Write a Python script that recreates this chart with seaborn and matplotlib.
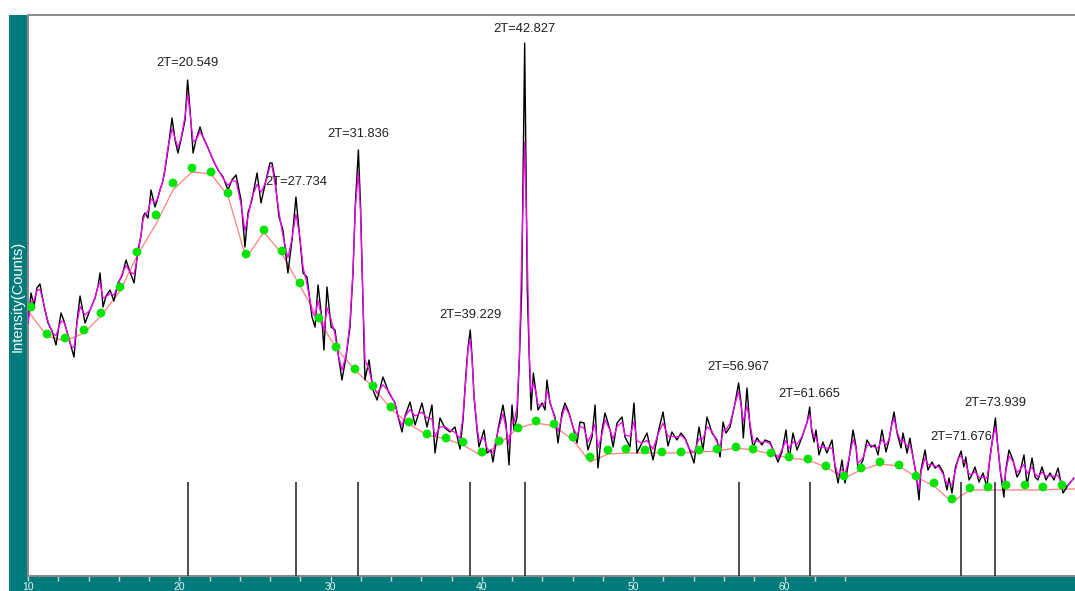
import numpy as np
import pandas as pd
import matplotlib
matplotlib.use("Agg")
import matplotlib.pyplot as plt
import seaborn as sns
from matplotlib.patches import Rectangle

# ---- measured scan: 2-theta (deg) and intensity (counts) ----
two_theta = [
    10.00, 10.20, 10.40, 10.59, 10.79, 11.06, 11.32, 11.59, 11.85, 12.18,
    12.38, 12.64, 12.84, 13.04, 13.24, 13.44, 13.77, 14.10, 14.43, 14.63,
    14.76, 14.96, 15.16, 15.42, 15.68, 15.95, 16.21, 16.48, 16.74, 17.01,
    17.27, 17.47, 17.60, 17.73, 17.93, 18.13, 18.39, 18.53, 18.72, 18.92,
    19.05, 19.25, 19.52, 19.72, 19.91, 20.11, 20.38, 20.549, 20.71, 20.91,
    21.10, 21.37, 21.57, 21.90, 22.23, 22.56, 22.89, 23.22, 23.48, 23.75,
    24.08, 24.34, 24.54, 24.80, 25.14, 25.40, 25.73, 25.99, 26.13, 26.33,
    26.59, 26.85, 27.18, 27.45, 27.71, 27.98, 28.18, 28.44, 28.77, 28.97,
    29.17, 29.43, 29.56, 29.76, 30.03, 30.29, 30.49, 30.75, 31.02, 31.28,
    31.48, 31.63, 31.836, 31.98, 32.13, 32.27, 32.54, 32.80, 33.07, 33.46,
    33.86, 34.26, 34.45, 34.72, 34.92, 35.25, 35.58, 36.04, 36.37, 36.70,
    36.90, 37.23, 37.56, 37.89, 38.22, 38.55, 38.75, 38.95, 39.08, 39.229,
    39.35, 39.48, 39.68, 39.81, 40.14, 40.34, 40.60, 40.73, 41.06, 41.39,
    41.59, 41.79, 41.99, 42.12, 42.32, 42.48, 42.63, 42.827, 43.00, 43.13,
    43.25, 43.40, 43.55, 43.71, 43.97, 44.17, 44.30, 44.50, 44.83, 45.03,
    45.29, 45.49, 45.76, 46.02, 46.29, 46.48, 46.75, 47.01, 47.28, 47.48,
    47.67, 47.94, 48.14, 48.47, 48.67, 48.93, 49.26, 49.46, 49.79, 50.05,
    50.25, 50.58, 50.91, 51.31, 51.64, 51.97, 52.30, 52.56, 52.89, 53.16,
    53.42, 53.69, 54.02, 54.35, 54.61, 54.88, 55.21, 55.54, 55.74, 55.94,
    56.13, 56.40, 56.73, 56.967, 57.15, 57.28, 57.52, 57.72, 57.92, 58.18,
    58.51, 58.71, 59.04, 59.31, 59.57, 59.83, 60.10, 60.30, 60.56, 60.83,
    61.16, 61.50, 61.665, 61.79, 61.95, 62.08, 62.28, 62.54, 62.80, 63.14,
    63.34, 63.54, 63.80, 64.00, 64.26, 64.53, 64.73, 64.86, 65.19, 65.45,
    65.72, 65.98, 66.18, 66.44, 66.71, 66.91, 67.10, 67.24, 67.44, 67.70,
    67.83, 68.10, 68.29, 68.49, 68.69, 68.89, 69.02, 69.29, 69.48, 69.75,
    69.95, 70.21, 70.48, 70.74, 70.87, 71.07, 71.30, 71.50, 71.676, 71.85,
    71.98, 72.20, 72.38, 72.59, 72.86, 73.12, 73.38, 73.58, 73.78, 73.939,
    74.10, 74.28, 74.50, 74.62, 74.84, 75.10, 75.37, 75.56, 75.83, 76.03,
    76.36, 76.56, 76.75, 77.02, 77.28, 77.55, 77.81, 78.08, 78.41, 78.74,
    79.13,
]
counts = [
    253, 283, 270, 288, 292, 270, 253, 245, 231, 263,
    255, 241, 230, 219, 255, 280, 253, 266, 278, 290,
    303, 269, 280, 286, 275, 293, 300, 316, 304, 293,
    326, 340, 359, 363, 358, 386, 369, 375, 386, 395,
    406, 426, 458, 436, 423, 436, 456, 496, 466, 423,
    436, 449, 439, 428, 416, 406, 399, 386, 396, 401,
    376, 329, 363, 376, 403, 373, 396, 413, 413, 396,
    359, 346, 303, 336, 379, 336, 303, 299, 259, 249,
    291, 256, 226, 289, 249, 246, 223, 196, 219, 249,
    303, 370, 426, 369, 280, 196, 216, 186, 176, 199,
    183, 173, 160, 144, 160, 174, 151, 173, 149, 171,
    123, 158, 148, 144, 149, 127, 156, 203, 228, 246,
    219, 179, 146, 129, 146, 123, 126, 114, 146, 171,
    153, 111, 171, 146, 159, 219, 286, 533, 286, 219,
    166, 203, 186, 166, 173, 166, 196, 173, 159, 133,
    163, 173, 163, 149, 133, 154, 153, 126, 139, 171,
    108, 146, 163, 146, 129, 153, 159, 139, 129, 173,
    123, 133, 143, 116, 143, 164, 130, 144, 136, 143,
    138, 128, 113, 149, 126, 159, 143, 136, 119, 154,
    143, 149, 173, 193, 170, 138, 188, 149, 129, 138,
    131, 136, 134, 124, 114, 124, 146, 116, 143, 126,
    139, 154, 169, 146, 134, 146, 121, 134, 123, 136,
    109, 93, 116, 93, 116, 146, 129, 106, 116, 136,
    129, 131, 121, 146, 124, 136, 153, 164, 143, 128,
    143, 123, 138, 119, 103, 76, 106, 126, 106, 114,
    108, 111, 104, 86, 98, 83, 109, 118, 125, 109,
    119, 96, 101, 109, 94, 103, 89, 119, 140, 158,
    129, 103, 79, 106, 126, 116, 99, 104, 121, 91,
    118, 99, 96, 109, 96, 103, 96, 108, 83, 91,
    98,
]

# ---- background anchor points ----
bg_theta = [
    10.20, 11.26, 12.45, 13.70, 14.82, 16.08, 17.20, 18.46, 19.58, 20.84,
    22.10, 23.22, 24.41, 25.60, 26.79, 27.98, 29.23, 30.36, 31.61, 32.80,
    33.99, 35.18, 36.37, 37.63, 38.75, 40.01, 41.13, 42.39, 43.58, 44.77,
    46.02, 47.15, 48.33, 49.52, 50.78, 51.90, 53.16, 54.35, 55.54, 56.79,
    57.92, 59.11, 60.30, 61.55, 62.74, 63.93, 65.06, 66.31, 67.57, 68.69,
    69.88, 71.07, 72.26, 73.45, 74.64, 75.90, 77.08, 78.34,
]
bg_points = [
    269, 242, 238, 246, 263, 289, 324, 361, 393, 408,
    404, 383, 322, 346, 325, 293, 258, 229, 207, 190,
    169, 154, 142, 138, 134, 124, 135, 148, 155, 152,
    139, 119, 126, 127, 126, 124, 124, 126, 127, 129,
    127, 123, 119, 117, 110, 100, 108, 114, 111, 100,
    93, 77, 88, 89, 91, 91, 89, 91,
]
# fitted background curve (scan start, anchors, scan end)
bg_curve_theta = [10.00] + bg_theta + [79.20]
bg_curve = [
    266,
    261, 240, 235, 243, 260, 285, 320, 352, 386, 404,
    402, 380, 318, 344, 322, 290, 256, 228, 206, 189,
    167, 152, 141, 137, 131, 120, 132, 148, 153, 150,
    136, 114, 122, 123, 123, 123, 123, 124, 125, 128,
    126, 122, 118, 116, 109, 98, 106, 112, 110, 99,
    90, 74, 86, 86, 86, 86, 86, 87,
    87,
]

# ---- identified peaks ----
peak_pos = [20.549, 27.734, 31.836, 39.229, 42.827, 56.967, 61.665, 71.676, 73.939]
label_y = [513, 394, 442, 261, 547, 209, 182, 139, 173]
marker_height = 94

major_ticks = [10, 20, 30, 40, 50, 60]
minor_ticks = [12, 14, 16, 18, 22, 24, 26, 28, 32, 34, 36, 38,
               42, 44, 46, 48, 52, 54, 56, 58, 62, 64]

scan = pd.DataFrame({"two_theta": two_theta, "counts": counts})
# light smoothing of the scan, as drawn by the processing software
c = scan["counts"]
scan["smoothed"] = (0.2 * c.shift(1) + 0.6 * c + 0.2 * c.shift(-1)).fillna(c)
bg_pts = pd.DataFrame({"two_theta": bg_theta, "counts": bg_points})
bg_line = pd.DataFrame({"two_theta": bg_curve_theta, "counts": bg_curve})

sns.set_style("white")
plt.rcParams["font.family"] = ["Liberation Sans", "DejaVu Sans"]

W, H = 1075, 591
TEAL = "#007b7b"
fig = plt.figure(figsize=(W / 100, H / 100), dpi=100, facecolor="white")
ax = fig.add_axes([28 / W, 15 / H, 1 - 28 / W, 561 / H])

# teal frame bars
fig.patches.append(Rectangle((9 / W, 0), 19 / W, 576 / H, transform=fig.transFigure,
                             facecolor=TEAL, edgecolor="none", zorder=-5))
fig.patches.append(Rectangle((9 / W, 0), 1 - 9 / W, 15 / H, transform=fig.transFigure,
                             facecolor=TEAL, edgecolor="none", zorder=-5))

sns.lineplot(data=bg_line, x="two_theta", y="counts", ax=ax, color="#ff8a8a",
             lw=1.0, estimator=None, sort=False, zorder=2)
sns.lineplot(data=scan, x="two_theta", y="counts", ax=ax, color="black",
             lw=1.0, estimator=None, sort=False, zorder=3)
sns.lineplot(data=scan, x="two_theta", y="smoothed", ax=ax, color="#ff00ff",
             lw=0.9, estimator=None, sort=False, zorder=4)
sns.scatterplot(data=bg_pts, x="two_theta", y="counts", ax=ax, color="#00e400",
                s=40, edgecolor="none", zorder=5)

ax.vlines(peak_pos, 0, marker_height, color="#303030", lw=1.2, zorder=3)
for p, ly in zip(peak_pos, label_y):
    ax.text(p, ly, f"2T={p:.3f}", ha="center", va="center", fontsize=9.3,
            color="#1e1e1e", zorder=6)

ax.set_xlim(10, 79.2)
ax.set_ylim(0, 561)
ax.set_xlabel("")
ax.set_ylabel("")
ax.set_yticks([])
ax.set_xticks(major_ticks)
ax.set_xticks(minor_ticks, minor=True)
ax.tick_params(axis="x", which="both", direction="out", length=3.6, width=1,
               color="#d8d8d8", labelcolor="#eaf4f4", labelsize=7.5, pad=0.8,
               bottom=True)

for side in ("left", "top", "bottom"):
    ax.spines[side].set_visible(True)
    ax.spines[side].set_color("#8a8a8a")
    ax.spines[side].set_linewidth(1.4)
ax.spines["right"].set_visible(False)

fig.text(17.5 / W, 1 - 296 / H, "Intensity(Counts)", rotation=90, color="white",
         fontsize=10.5, ha="center", va="center")

fig.savefig("out.png", dpi=100, facecolor="white")
